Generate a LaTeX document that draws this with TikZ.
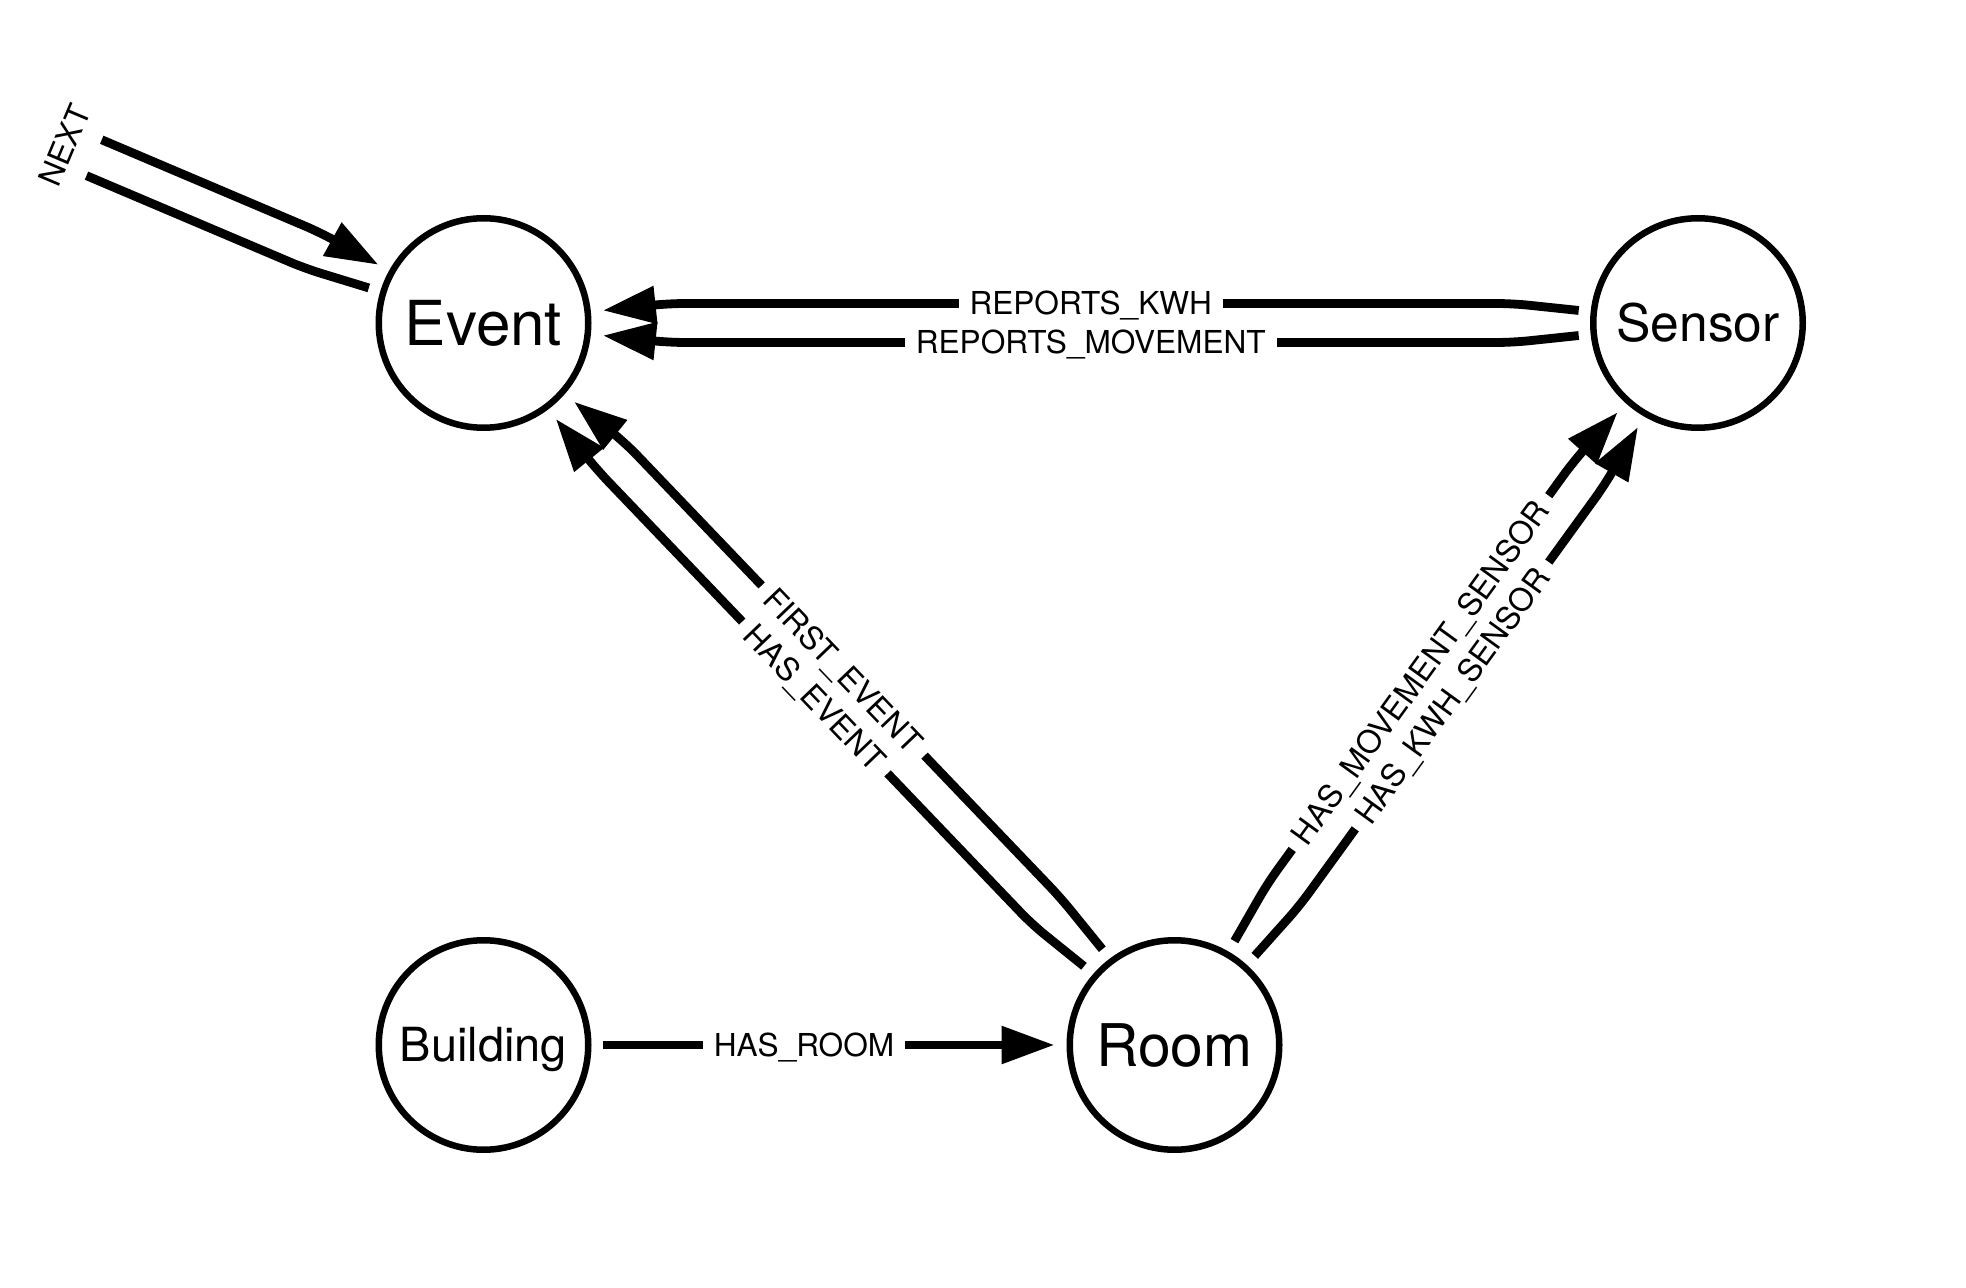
\documentclass[tikz,border=0pt]{standalone}
\usepackage{fontspec}
\setmainfont{TeX Gyre Heros}
\usetikzlibrary{arrows.meta}
\begin{document}
\begin{tikzpicture}[x=0.5pt,y=-0.5pt,
  ent/.style 2 args={circle, draw, line width=3.25pt, minimum size=104.75pt, inner sep=0pt, outer sep=7.6pt,
    font=\fontsize{#1}{#1}\selectfont, text height=#2, text depth=0pt},
  rel/.style={line width=4.4pt, rounded corners=8pt},
  arr/.style={rel, -{Triangle[length=26.5pt,width=18pt]}},
  lab/.style={fill=white, inner xsep=5.5pt, inner ysep=1pt, font=\fontsize{15.8}{15.8}\selectfont,
    text height=11.34pt, text depth=0pt}]
\fill[white] (0,0) rectangle (1966,1288);
\useasboundingbox (0,0) rectangle (1966,1288);

% entities
\node[ent={31}{22.26pt}] (event) at (483.5,323) {Event};
\node[ent={25.8}{18.52pt}] (sensor) at (1698,323) {Sensor};
\node[ent={23.5}{16.87pt}] (building) at (483.5,1045) {Building};
\node[ent={29.4}{21.1pt}] (room) at (1174.5,1045) {Room};

% Sensor -> Event
\draw[arr] (sensor.174) -- (1512.5,303.5) -- (669,303.5) -- (event.6);
\draw[arr] (sensor.186) -- (1512.5,342.5) -- (669,342.5) -- (event.354);
% Room -> Event
\draw[arr] (room.127.75) -- (1060.33,897.52) -- (625.84,443.52) -- (event.319.75);
\draw[arr] (room.139.75) -- (1032.16,924.48) -- (597.66,470.48) -- (event.307.75);
% Room -> Sensor
\draw[arr] (room.60.06) -- (1267.6,883.37) -- (1573.32,461.73) -- (sensor.228.06);
\draw[arr] (room.48.06) -- (1299.18,906.27) -- (1604.9,484.63) -- (sensor.240.06);
% Building -> Room
\draw[arr] (building.east) -- (room.west);
% NEXT loop
\coordinate (nextout) at (86.51,175.68);
\coordinate (nextin) at (101.75,139.78);
\draw[rel] (event.163.1) -- (305.13,268.48) -- (nextout);
\draw[arr] (nextin) -- (320.37,232.58) -- (event.151.1);

% labels
\node[lab] (lkwh) at (1090.75,303.5) {REPORTS\_KWH};
\node[lab] (lmov) at (1090.75,342.5) {REPORTS\_MOVEMENT};
\node[lab, rotate=-46.25] (lfirst) at (843.09,670.52) {FIRST\_EVENT};
\node[lab, rotate=-46.25] (lhasev) at (814.91,697.48) {HAS\_EVENT};
\node[lab, rotate=54.06] (lmovs) at (1420.46,672.55) {HAS\_MOVEMENT\_SENSOR};
\node[lab, rotate=54.06] (lkwhs) at (1452.04,695.45) {HAS\_KWH\_SENSOR};
\node[lab] (lroom) at (804,1045) {HAS\_ROOM};
\node[lab, rotate=67.1] (lnext) at (64.67,145.23) {NEXT};
\end{tikzpicture}
\end{document}
